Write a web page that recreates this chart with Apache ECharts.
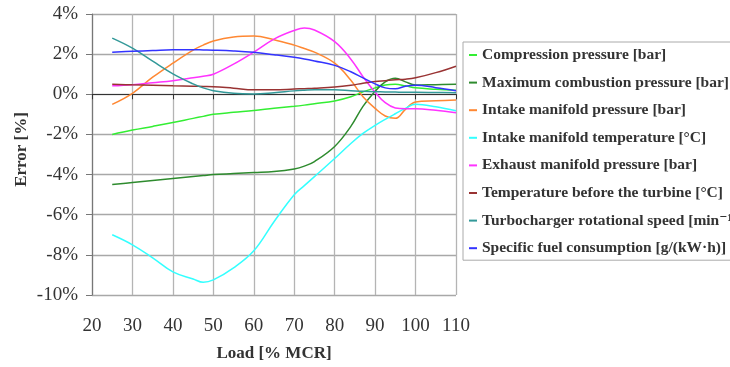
<!DOCTYPE html>
<html>
<head>
<meta charset="utf-8">
<script src="https://cdn.jsdelivr.net/npm/echarts@6/dist/echarts.min.js"></script>
<style>
  html, body {margin: 0; padding: 0; background: #fff;}
  #chart {width: 730px; height: 367px;}
</style>
</head>
<body>
<div id="chart"></div>
<script>
// load points, % MCR
var loads = [25, 30, 35, 40, 45, 47.5, 50, 55, 60, 65, 70, 72.5, 75, 80, 84, 87, 90, 92.5, 95, 97.5, 100, 105, 110];

// error values, %
var compression  = [-2.0, -1.78, -1.6, -1.41, -1.2, -1.1, -1.0, -0.9, -0.81, -0.7, -0.6, -0.54, -0.47, -0.33, -0.12, 0.12, 0.32, 0.46, 0.5, 0.42, 0.32, 0.25, 0.2];
var maxComb      = [-4.5, -4.4, -4.3, -4.2, -4.1, -4.05, -4.0, -3.95, -3.9, -3.85, -3.72, -3.58, -3.35, -2.6, -1.6, -0.6, 0.15, 0.62, 0.8, 0.62, 0.46, 0.48, 0.5];
var intakePress  = [-0.5, 0.05, 0.85, 1.55, 2.2, 2.45, 2.65, 2.85, 2.9, 2.72, 2.45, 2.28, 2.1, 1.55, 0.7, -0.12, -0.7, -1.08, -1.2, -0.75, -0.38, -0.32, -0.28];
var intakeTemp   = [-7.0, -7.5, -8.15, -8.85, -9.2, -9.37, -9.25, -8.65, -7.8, -6.35, -5.0, -4.55, -4.1, -3.2, -2.45, -1.95, -1.55, -1.25, -0.97, -0.7, -0.5, -0.62, -0.82];
var exhaustPress = [0.42, 0.48, 0.58, 0.68, 0.82, 0.9, 1.0, 1.5, 2.1, 2.75, 3.18, 3.3, 3.2, 2.62, 1.75, 0.88, 0.1, -0.42, -0.68, -0.72, -0.72, -0.8, -0.92];
var turbineTemp  = [0.5, 0.47, 0.45, 0.42, 0.4, 0.39, 0.38, 0.3, 0.22, 0.22, 0.26, 0.28, 0.3, 0.36, 0.45, 0.55, 0.64, 0.68, 0.72, 0.75, 0.82, 1.08, 1.4];
var turboSpeed   = [2.8, 2.3, 1.65, 1.02, 0.52, 0.32, 0.18, 0.05, 0.02, 0.08, 0.17, 0.2, 0.22, 0.22, 0.18, 0.15, 0.13, 0.12, 0.11, 0.1, 0.1, 0.09, 0.08];
var fuelCons     = [2.1, 2.14, 2.18, 2.22, 2.22, 2.21, 2.2, 2.16, 2.09, 1.97, 1.84, 1.76, 1.66, 1.44, 1.12, 0.82, 0.52, 0.32, 0.27, 0.4, 0.45, 0.33, 0.18];

var names = [
    "Compression pressure [bar]",
    "Maximum combustion pressure [bar]",
    "Intake manifold pressure [bar]",
    "Intake manifold temperature [°C]",
    "Exhaust manifold pressure [bar]",
    "Temperature before the turbine [°C]",
    "Turbocharger rotational speed [min⁻¹]",
    "Specific fuel consumption [g/(kW·h)]"
];
var values = [compression, maxComb, intakePress, intakeTemp, exhaustPress, turbineTemp, turboSpeed, fuelCons];
var colors = ["#33ee33", "#2e8b2e", "#ff8833", "#33ffff", "#ff33ff", "#993333", "#339999", "#3333ff"];

var serif = "'Liberation Serif', 'DejaVu Serif', serif";

var chart = echarts.init(document.getElementById("chart"), null, {renderer: "canvas"});

var series = names.map(function(name, i) {
    return {
        name: name, type: "line", smooth: 0.4, showSymbol: false, xAxisIndex: 0,
        lineStyle: {width: 1.5, color: colors[i]}, itemStyle: {color: colors[i]},
        data: loads.map(function(x, j) {return [x, values[i][j]]})
    }
});

chart.setOption({
    backgroundColor: "#fff",
    animation: false,
    grid: {left: 92, right: 274, top: 14, bottom: 72},
    legend: {
        orient: "vertical", left: 463, top: 42,
        padding: [4, 0, 3, 6], itemGap: 9.6,
        borderColor: "#aaa", borderWidth: 1,
        icon: "rect", itemWidth: 8, itemHeight: 2,
        textStyle: {fontFamily: serif, fontWeight: "bold", fontSize: 15.5, color: "#333", lineHeight: 18},
        data: names
    },
    xAxis: [{
        type: "value", min: 20, max: 110, interval: 10, position: "bottom",
        name: "Load [% MCR]", nameLocation: "middle", nameGap: 50,
        nameTextStyle: {fontFamily: serif, fontWeight: "bold", fontSize: 17, color: "#333"},
        axisLine: {show: false, onZero: false},
        axisTick: {show: false},
        axisLabel: {margin: 22, fontFamily: serif, fontSize: 19, color: "#333"},
        splitLine: {show: true, lineStyle: {color: "#b4b4b4", width: 1.3}}
    }, {
        type: "value", min: 20, max: 110, interval: 10, position: "bottom",
        axisLine: {show: true, onZero: true, lineStyle: {color: "#333", width: 1.2}},
        axisTick: {show: true, length: 5, lineStyle: {color: "#333"}},
        axisLabel: {show: false},
        splitLine: {show: false}
    }],
    yAxis: {
        type: "value", min: -10, max: 4, interval: 2,
        name: "Error [%]", nameLocation: "middle", nameGap: 62, nameRotate: 90,
        nameTextStyle: {fontFamily: serif, fontWeight: "bold", fontSize: 17, color: "#333", padding: [0, 0, 0, 10]},
        axisLine: {show: true, lineStyle: {color: "#777", width: 1.2}},
        axisTick: {show: true, length: 6, lineStyle: {color: "#777"}},
        axisLabel: {margin: 14, fontFamily: serif, fontSize: 19, color: "#333", formatter: "{value}%"},
        splitLine: {show: true, lineStyle: {color: "#a8a8a8", width: 1.3}}
    },
    series: series
});
</script>
</body>
</html>
